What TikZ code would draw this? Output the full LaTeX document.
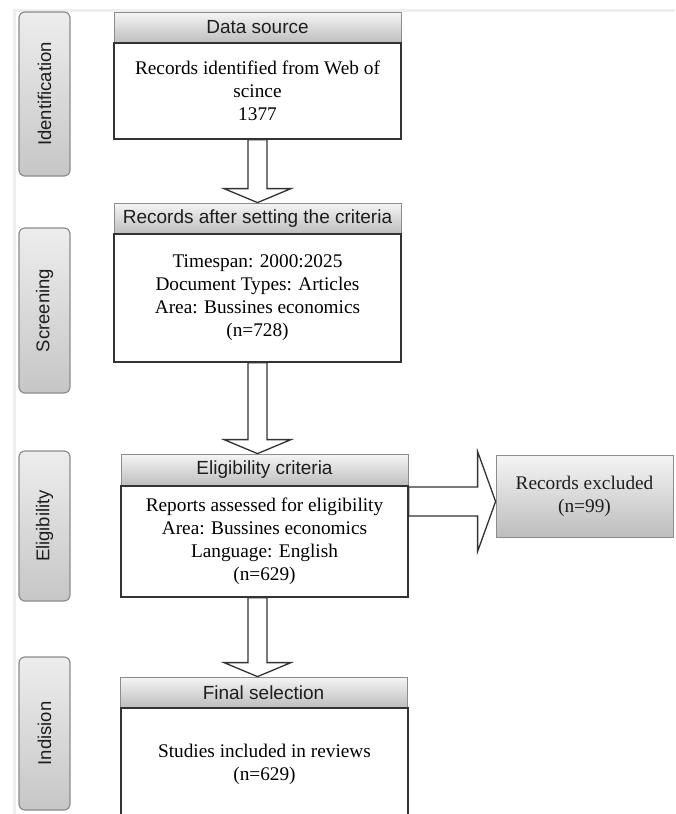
\documentclass[tikz,border=0pt]{standalone}
\usepackage{fontspec}
\setmainfont{Liberation Serif}
\setsansfont{Liberation Sans}
\usetikzlibrary{calc}
\definecolor{edgegray}{HTML}{8C8C8C}
\definecolor{boxline}{HTML}{333333}
\definecolor{shadelight}{HTML}{F5F5F5}
\definecolor{shadedark}{HTML}{BDBDBD}
\definecolor{tablight}{HTML}{EDEDED}
\definecolor{tabdark}{HTML}{C6C6C6}
\definecolor{textgray}{HTML}{1E1E1E}
\definecolor{framegray}{HTML}{EEEEEE}
\begin{document}
\begin{tikzpicture}
		[x=1pt,y=-1pt,
		head/.style={rectangle,draw=edgegray,thick,top color=shadelight,bottom color=shadedark,
inner sep=0pt,minimum width=287pt,minimum height=31pt,text=textgray,
font=\sffamily\fontsize{19}{22}\selectfont},
		body/.style={rectangle,draw=boxline,fill=white,line width=1.3pt,
inner sep=0pt,minimum width=287pt,align=center,font=\fontsize{19.3}{23}\selectfont},
		tab/.style={rectangle,rounded corners=6pt,draw=edgegray,line width=1.2pt,
top color=tablight,bottom color=tabdark,inner sep=0pt,minimum height=51pt,rotate=90,
text=textgray,font=\sffamily\fontsize{18.5}{22}\selectfont},
		side/.style={rectangle,draw=edgegray,thick,top color=shadelight,bottom color=shadedark,
inner sep=0pt,align=center,text=textgray,font=\fontsize{19.3}{23}\selectfont},
		blockdown/.style={draw=boxline,fill=white,line width=1.3pt,line join=miter,
to path={($(\tikztostart)+(-9.5,0)$) -- ($(\tikztotarget)+(-9.5,-14)$)
 -- ($(\tikztotarget)+(-33.5,-14)$) -- (\tikztotarget) -- ($(\tikztotarget)+(33.5,-14)$)
 -- ($(\tikztotarget)+(9.5,-14)$) -- ($(\tikztostart)+(9.5,0)$) -- cycle}},
		blockright/.style={draw=boxline,fill=white,line width=1.3pt,line join=miter,
to path={($(\tikztostart)+(0,-14.5)$) -- ($(\tikztotarget)+(-18,-14.5)$)
 -- ($(\tikztotarget)+(-18,-50)$) -- (\tikztotarget) -- ($(\tikztotarget)+(-18,50)$)
 -- ($(\tikztotarget)+(-18,14.5)$) -- ($(\tikztostart)+(0,14.5)$) -- cycle}}]
		\useasboundingbox (0,0) rectangle (675,814);
		\clip (0,0) rectangle (675,814);
		\draw[framegray,line width=3pt] (14,814) -- (14,10) -- (675,10);
		% stage tabs
		\node at (44.5,94) (tabid) [tab,minimum width=164pt] {Identification};
		\node at (44.5,310.5) (tabscr) [tab,minimum width=165pt] {Screening};
		\node at (44.5,526) (tabelig) [tab,minimum width=150pt] {Eligibility};
		\node at (44.5,733.5) (tabincl) [tab,minimum width=153pt] {Indision};
		% boxes
		\node at (257.5,27.5) (hsrc) [head] {Data source};
		\node at (257.5,91) (bsrc) [body,minimum height=96pt] {Records identified from Web of\\scince\\1377};
		\node at (257.5,218.5) (hcrit) [head] {Records after setting the criteria};
		\node at (257.5,298) (bcrit) [body,minimum height=128pt] {Timespan: 2000:2025\\Document Types: Articles\\
Area: Bussines economics\\(n=728)};
		\node at (264.5,470) (helig) [head,minimum height=32pt] {Eligibility criteria};
		\node at (264.5,541.5) (belig) [body,minimum height=111pt] {Reports assessed for eligibility\\
Area: Bussines economics\\Language: English\\(n=629)};
		\node at (263.5,692.5) (hfinal) [head] {Final selection};
		\node at (264.5,764) (bfinal) [body,minimum height=112pt] {Studies included in reviews\\(n=629)};
		\node at (584.5,496) (excl) [side,minimum width=177pt,minimum height=82pt] {Records excluded\\(n=99)};
		% arrows
		\coordinate (cut) at (450,501.5);
		\draw[blockdown] (bsrc.south) to (hcrit.north);
		\draw[blockdown] (bcrit.south) to (bcrit.south |- helig.north);
		\draw[blockdown] (belig.south -| bcrit.south) to (bcrit.south |- hfinal.north);
		\draw[blockright] (belig.east |- cut) to (excl.west |- cut);
	\end{tikzpicture}
\end{document}
